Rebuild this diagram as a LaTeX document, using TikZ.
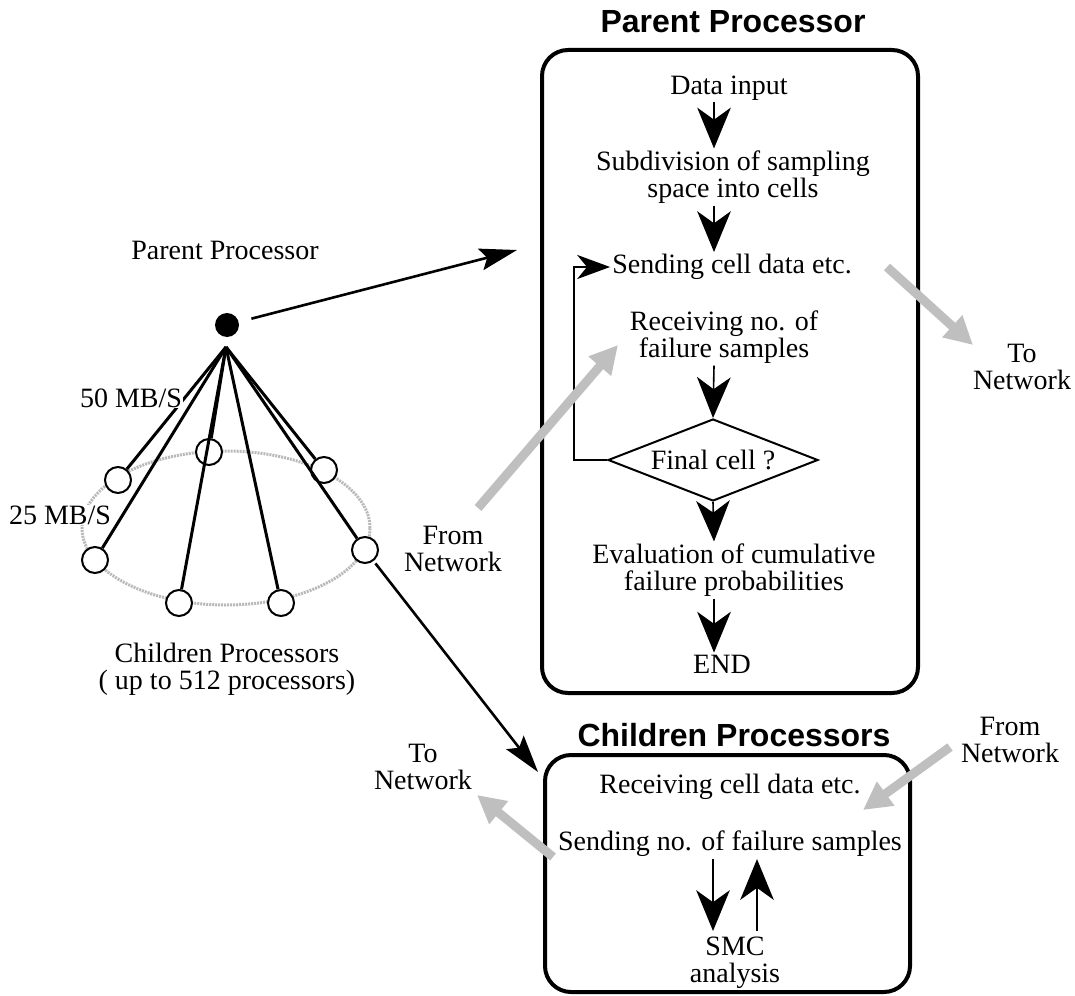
\documentclass[tikz,border=0pt]{standalone}
\usepackage{fontspec}
\setmainfont{Liberation Serif}
\newfontfamily\hv{Liberation Sans}
\usetikzlibrary{arrows.meta,calc,shapes.geometric}
\begin{document}
\begin{tikzpicture}[x=1pt,y=-1pt,
  txt/.style={font=\fontsize{28}{27}\selectfont, align=center, inner sep=2pt},
  ttl/.style={font=\hv\bfseries\fontsize{32}{32}\selectfont, inner sep=0pt},
  rbox/.style={draw, line width=4pt, rounded corners=26pt},
  flow/.style={line width=1.6pt, -{Stealth[length=34pt,width=28pt,inset=10pt,scale=1.2]}},
  loopl/.style={line width=1.5pt, -{Stealth[length=30pt,width=22pt,inset=9pt,scale=1.1]}},
  mainarr/.style={line width=2.6pt, -{Stealth[length=34pt,width=20pt,inset=6pt,scale=1.1]}},
  conel/.style={line width=3pt},
  proc/.style={circle, draw, line width=2pt, fill=white, minimum size=26pt, inner sep=0pt},
  garr/.style={line width=9pt, color=gray!50, -{Triangle[length=28pt,width=28pt]}}
]
\path[use as bounding box] (0,0) rectangle (1075,995);

% ---------- left: processor network ----------
\node[txt] (pplabel) at (225,250) {Parent Processor};
\node[circle, fill=black, minimum size=24pt, inner sep=0pt] (dot) at (227,325) {};
\coordinate (apex) at (226,347);
\draw[gray!55, line width=3pt, dash pattern=on 2pt off 1pt] (226,528) ellipse [x radius=144pt, y radius=77pt];

\node[proc] (c1) at (118,480) {};
\node[proc] (c2) at (209,452) {};
\node[proc] (c3) at (324,470) {};
\node[proc] (c4) at (95,560) {};
\node[proc] (c5) at (179,603) {};
\node[proc] (c6) at (281,603) {};
\node[proc] (c7) at (365,550) {};

\foreach \c in {c1,c2,c3,c4,c5,c6,c7} \draw[conel] (apex) -- (\c);

\node[txt, fill=white, inner sep=1pt] (l50) at (131,398) {50 MB/S};
\node[txt, fill=white, inner sep=1pt] (l25) at (60,515) {25 MB/S};
\node[txt] (cplabel) at (227,669) {Children Processors\\( up to 512 processors)};

% ---------- parent processor box ----------
\node[ttl] (ptitle) at (733,22) {Parent Processor};
\node[rbox, minimum width=376pt, minimum height=643pt] (pbox) at (730,371.5) {};

\node[txt] (din) at (729,88) {Data input};
\node[txt] (sub) at (733,177) {Subdivision of sampling\\space into cells};
\node[txt] (send) at (732,267) {Sending cell data etc.};
\node[txt] (recv) at (724,337) {Receiving no. of\\failure samples};
\node[draw, diamond, line width=2pt, minimum width=210pt, minimum height=82pt, inner sep=0pt, aspect=2.56, font=\fontsize{28}{27}\selectfont] (dia) at (713,460) {Final cell ?};
\node[txt] (eval) at (734,570) {Evaluation of cumulative\\failure probabilities};
\node[txt] (endn) at (722,664) {END};

\coordinate (ax) at (714,0);
\draw[flow] (din.south -| ax) -- (sub.north -| ax);
\draw[flow] (sub.south -| ax) -- (send.north -| ax);
\draw[flow] (recv.south -| ax) -- (dia.north);
\draw[flow] (dia.south) -- (eval.north -| ax);
\draw[flow] (eval.south -| ax) -- (endn.north -| ax);
\draw[loopl] (dia.west) -- ++(-33,0) |- (send.west);

% ---------- children processor box ----------
\node[ttl] (ctitle) at (734,735) {Children Processors};
\node[rbox, minimum width=365pt, minimum height=237pt] (cbox) at (727.5,873.5) {};
\node[txt] (crecv) at (730,787) {Receiving cell data etc.};
\node[txt] (csend) at (730,844) {Sending no. of failure samples};
\node[txt] (smc) at (735,963) {SMC\\analysis};
\coordinate (dx) at (713,0);
\coordinate (ux) at (757,0);
\draw[flow, shorten >=4pt] (csend.south -| dx) -- (smc.north -| dx);
\draw[flow, shorten <=4pt] (smc.north -| ux) -- (csend.south -| ux);

% ---------- main connectors ----------
\coordinate (ptip) at (517,250);
\draw[mainarr, shorten <=13pt] (dot) -- (ptip);
\coordinate (ctip) at (538,772);
\draw[mainarr, shorten <=3pt] (c7) -- (ctip);

% ---------- network arrows ----------
\node[txt] (tonet1) at (1022,367) {To\\Network};
\node[txt] (fromnet1) at (453,549) {From\\Network};
\node[txt] (tonet2) at (423,767) {To\\Network};
\node[txt] (fromnet2) at (1010,740) {From\\Network};
\coordinate (g1s) at (887,267); \coordinate (g1e) at (973,345);
\coordinate (g2s) at (478,508); \coordinate (g2e) at (618,345);
\coordinate (g3s) at (553,857); \coordinate (g3e) at (477,795);
\coordinate (g4s) at (950,747); \coordinate (g4e) at (863,810);
\draw[garr] (g1s) -- (g1e);
\draw[garr] (g2s) -- (g2e);
\draw[garr] (g3s) -- (g3e);
\draw[garr] (g4s) -- (g4e);
\end{tikzpicture}
\end{document}
